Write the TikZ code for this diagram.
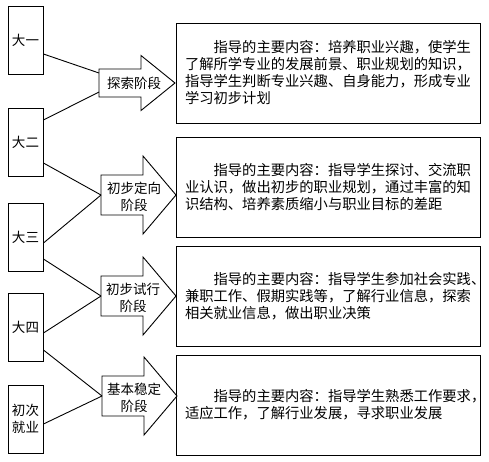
\documentclass[tikz,border=0pt]{standalone}
\usepackage{fontspec}
\newfontfamily\cjk{Noto Sans CJK SC}
\usetikzlibrary{positioning}

\def\dW{35pt}  % width of the year boxes
\def\dH{68pt}  % height of the year boxes
\def\sL{42}    % shaft length of a stage arrow
\def\sH{20}    % half shaft height
\def\hL{33}    % head length
\def\hH{19}    % head overhang

\tikzset{
  year/.style={shape=rectangle, draw=black, line width=0.9pt, minimum width=\dW,
    minimum height=\dH, inner sep=0pt, align=center,
    font=\cjk\fontsize{13.5}{17}\selectfont},
  stagebox/.style={draw=black, line width=0.9pt, line join=miter},
  stagetext/.style={align=center, inner sep=0pt, font=\cjk\fontsize{13.5}{17}\selectfont},
  content/.style={shape=rectangle, draw=black, line width=0.9pt, minimum width=304pt,
    minimum height=100pt, text width=286pt, inner sep=9pt, align=left,
    font=\cjk\fontsize{14.3}{17}\selectfont},
  link/.style={line width=0.9pt},
}

\begin{document}
\begin{tikzpicture}[x=1pt, y=-1pt]
    \useasboundingbox (0,0) rectangle (489,461);

    %%   years on the left
    \node[year] (Y1) at (25.5, 40.5) {大一};
    \node[year] (Y2) at (25.5,142.5) {大二};
    \node[year] (Y3) at (25.5,237.5) {大三};
    \node[year] (Y4) at (25.5,  327) {大四};
    \node[year] (Y5) at (25.5,  419) {初次\\就业};

    %%   left ends of the stage arrows
    \coordinate (A1) at ( 99, 83);
    \coordinate (A2) at (101,195);
    \coordinate (A3) at (101,296);
    \coordinate (A4) at (102,396);

    \draw[stagebox] (A1) ++(0,-14) -- ++(42,0) -- ++(0,-13.5) -- ++(34,27.5)
        -- ++(-34,27.5) -- ++(0,-13.5) -- ++(-42,0) -- cycle;
    \draw[stagebox] (A2) ++(0,-\sH) -- ++(\sL,0) -- ++(0,-\hH) -- ++(\hL,\sH+\hH)
        -- ++(-\hL,\sH+\hH) -- ++(0,-\hH) -- ++(-\sL,0) -- cycle;
    \draw[stagebox] (A3) ++(0,-\sH) -- ++(\sL,0) -- ++(0,-\hH) -- ++(\hL,\sH+\hH)
        -- ++(-\hL,\sH+\hH) -- ++(0,-\hH) -- ++(-\sL,0) -- cycle;
    \draw[stagebox] (A4) ++(0,-\sH) -- ++(\sL,0) -- ++(0,-\hH) -- ++(\hL,\sH+\hH)
        -- ++(-\hL,\sH+\hH) -- ++(0,-\hH) -- ++(-\sL,0) -- cycle;

    \node[stagetext] (L1) at (134, 83) {探索阶段};
    \node[stagetext] (L2) at (134,197) {初步定向\\阶段};
    \node[stagetext] (L3) at (133,298) {初步试行\\阶段};
    \node[stagetext] (L4) at (134,398) {基本稳定\\阶段};

    %%   contents on the right
    \node[content] (B1) at (328,   73) {\hspace*{2em}指导的主要内容：培养职业兴趣，使学生\\
        了解所学专业的发展前景、职业规划的知识，\\
        指导学生判断专业兴趣、自身能力，形成专业\\
        学习初步计划};
    \node[content] (B2) at (328,187.5) {\hspace*{2em}指导的主要内容：指导学生探讨、交流职\\
        业认识，做出初步的职业规划，通过丰富的知\\
        识结构、培养素质缩小与职业目标的差距};
    \node[content] (B3) at (328,  296) {\hspace*{2em}指导的主要内容：指导学生参加社会实践、\\
        兼职工作、假期实践等，了解行业信息，探索\\
        相关就业信息，做出职业决策};
    \node[content] (B4) at (328,  405) {\hspace*{2em}指导的主要内容：指导学生熟悉工作要求，\\
        适应工作，了解行业发展，寻求职业发展};

    %%   links from the years to the stages
    \path[link] ([yshift=-13.5pt]Y1.east) edge ([yshift=10pt]A1);
    \path[link] ([yshift= 22.5pt]Y2.east) edge ([yshift=-9pt]A1);
    \path[link] ([yshift=-20.5pt]Y2.east) edge (A2);
    \path[link] ([yshift= -5.5pt]Y3.east) edge (A2);
    \path[link] ([yshift=-21.5pt]Y3.east) edge (A3);
    \path[link] ([yshift=   -6pt]Y4.east) edge (A3);
    \path[link] ([yshift=  -23pt]Y4.east) edge (A4);
    \path[link] ([yshift=   -5pt]Y5.east) edge (A4);

  \end{tikzpicture}
\end{document}
